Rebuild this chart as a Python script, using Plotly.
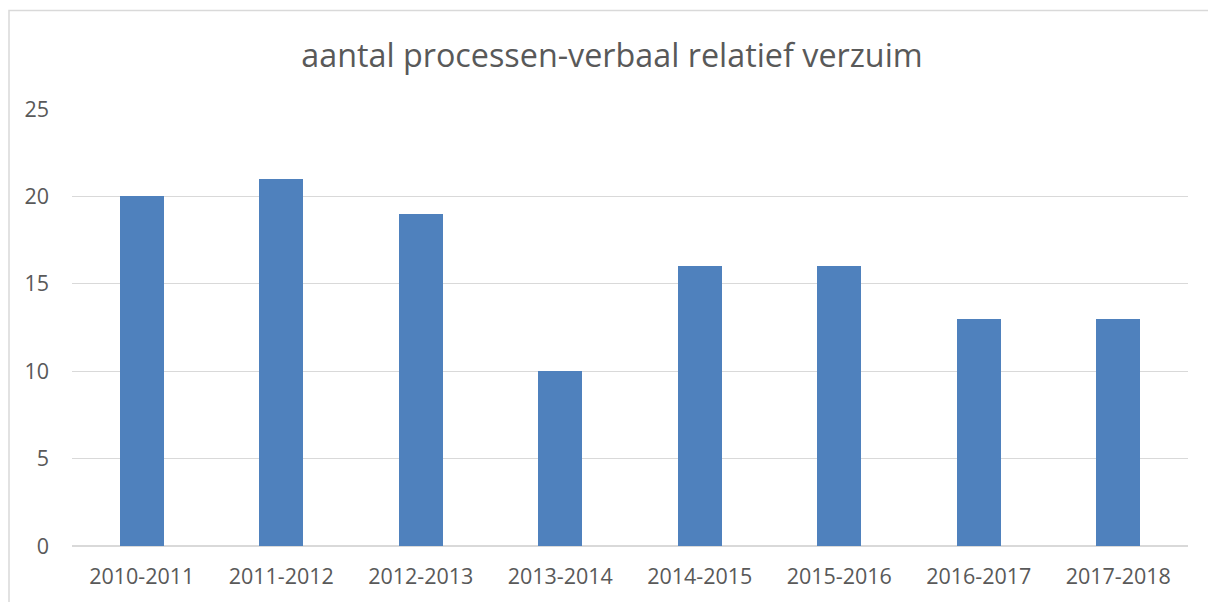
import plotly.graph_objects as go

categories = ["2010-2011", "2011-2012", "2012-2013", "2013-2014",
              "2014-2015", "2015-2016", "2016-2017", "2017-2018"]
values = [20, 21, 19, 10, 16, 16, 13, 13]
y_ticks = [0, 5, 10, 15, 20, 25]
title_text = "aantal processen-verbaal relatief verzuim"

# page body adds an 8px margin, so the figure is sized to fill the rest
W, H = 1208, 594
ml, mr, mt, mb = 64, 28, 101, 54
pw, ph = W - ml - mr, H - mt - mb

fig = go.Figure(go.Bar(
    x=categories, y=values,
    marker=dict(color="#4f81bd", line=dict(width=0)),
    width=0.313,
))

grey = "#595959"
fig.update_layout(
    width=W, height=H,
    margin=dict(l=ml, r=mr, t=mt, b=mb, pad=0),
    paper_bgcolor="white", plot_bgcolor="white",
    showlegend=False,
    font=dict(family="Open Sans", color=grey),
    title=dict(text=title_text, x=604 / W, xref="container", xanchor="center",
               y=1 - 48 / H, yref="container", yanchor="middle",
               font=dict(family="Open Sans", size=32.3, color=grey)),
    xaxis=dict(type="category", showgrid=False, showline=False, ticks="",
               tickfont=dict(size=21.5, color=grey), ticklabelstandoff=15),
    yaxis=dict(range=[0, 25], tickvals=y_ticks, showgrid=True, gridcolor="#d9d9d9",
               gridwidth=1, zeroline=True, zerolinecolor="#d9d9d9", zerolinewidth=1.5,
               showline=False, ticks="", tickfont=dict(size=21.5, color=grey),
               ticklabelstandoff=22),
    bargap=0,
)

# outer chart border (left/top visible)
fig.add_shape(type="rect", xref="paper", yref="paper",
              x0=(1 - ml) / pw, x1=(W + 10 - ml) / pw,
              y0=-(H + 10 - mt - ph) / ph, y1=(mt + ph - 2) / ph,
              line=dict(color="#d9d9d9", width=1.5), fillcolor="rgba(0,0,0,0)",
              layer="below")

fig.write_html("out.html")
